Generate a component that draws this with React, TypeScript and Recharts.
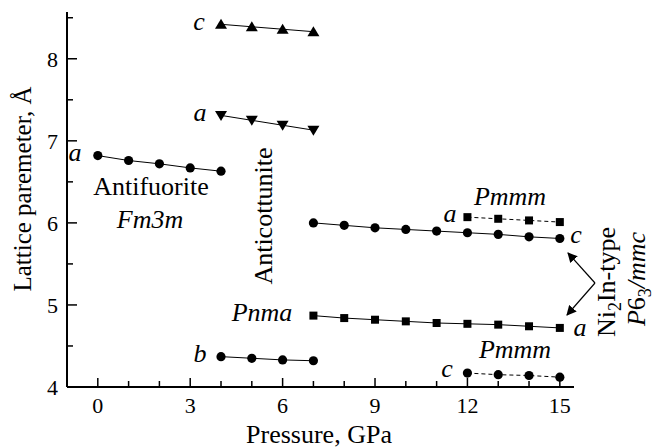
import React from 'react';
import { LineChart, Line, XAxis, YAxis } from 'recharts';

// Antifluorite (Fm3m)
const pressureAF = [0, 1, 2, 3, 4];
const aAF = [6.82, 6.76, 6.72, 6.67, 6.63];
// Anticotunite (Pnma)
const pressureAC = [4, 5, 6, 7];
const cAC = [8.42, 8.39, 8.36, 8.33];
const aAC = [7.31, 7.25, 7.19, 7.13];
const bAC = [4.37, 4.35, 4.33, 4.32];
// Ni2In-type (P63/mmc)
const pressureNi = [7, 8, 9, 10, 11, 12, 13, 14, 15];
const cNi = [6.0, 5.97, 5.94, 5.92, 5.9, 5.88, 5.86, 5.83, 5.81];
const aNi = [4.87, 4.84, 4.82, 4.8, 4.78, 4.77, 4.76, 4.74, 4.72];
// Pmmm
const pressurePm = [12, 13, 14, 15];
const aPm = [6.07, 6.05, 6.03, 6.01];
const cPm = [4.17, 4.15, 4.14, 4.12];

const xTicks = [0, 1, 2, 3, 4, 5, 6, 7, 8, 9, 10, 11, 12, 13, 14, 15];
const xLabelTicks = [0, 3, 6, 9, 12, 15];
const yTicks = [4, 4.5, 5, 5.5, 6, 6.5, 7, 7.5, 8, 8.5];
const yLabelTicks = [4, 5, 6, 7, 8];

const zip = (xs: number[], ys: number[]) => xs.map((x, i) => ({ x, y: ys[i] }));

const FONT = "'Liberation Serif', 'Times New Roman', Times, 'DejaVu Serif', serif";
const fs = (size: number, italic = false): React.CSSProperties => ({
  fontFamily: FONT,
  fontSize: size,
  fontStyle: italic ? 'italic' : 'normal',
});

const makeDot = (shape: string) => (props: any) => {
  const { cx, cy, index } = props;
  const key = `d-${shape}-${index}`;
  if (cx == null || cy == null) return <g key={key} />;
  if (shape === 'circle') return <circle key={key} cx={cx} cy={cy} r={4.6} fill="#000" />;
  if (shape === 'square') return <rect key={key} x={cx - 4} y={cy - 4} width={8} height={8} fill="#000" />;
  if (shape === 'up')
    return <polygon key={key} points={`${cx - 6},${cy + 4.5} ${cx + 6},${cy + 4.5} ${cx},${cy - 5.5}`} fill="#000" />;
  return <polygon key={key} points={`${cx - 6},${cy - 4.5} ${cx + 6},${cy - 4.5} ${cx},${cy + 5.5}`} fill="#000" />;
};

const XTick = (props: any) => {
  const { x, y, payload } = props;
  const v = payload.value;
  const major = xLabelTicks.includes(v);
  return (
    <g>
      <line x1={x} x2={x} y1={y} y2={y - (major ? 9 : 6)} stroke="#000" strokeWidth={1.5} />
      {major && (
        <text x={x} y={y + 26} textAnchor="middle" style={fs(22)} fill="#000">
          {v}
        </text>
      )}
    </g>
  );
};

const YTick = (props: any) => {
  const { x, y, payload } = props;
  const v = payload.value;
  const major = yLabelTicks.includes(v);
  return (
    <g>
      <line x1={x} x2={x + (major ? 10 : 6)} y1={y} y2={y} stroke="#000" strokeWidth={1.5} />
      {major && (
        <text x={x - 9} y={y + 8} textAnchor="end" style={fs(22)} fill="#000">
          {v}
        </text>
      )}
    </g>
  );
};

const lineProps = {
  type: 'linear' as const,
  dataKey: 'y',
  stroke: '#000',
  strokeWidth: 1,
  isAnimationActive: false,
  activeDot: false as const,
};

const T = (p: { x: number; y: number; children: React.ReactNode; italic?: boolean; size?: number }) => (
  <text x={p.x} y={p.y} textAnchor="middle" style={fs(p.size || 26, p.italic)} fill="#000">
    {p.children}
  </text>
);

export default function App() {
  return (
    <div style={{ position: 'absolute', left: 0, top: 0, width: 655, height: 448, background: '#fff' }}>
      <LineChart width={655} height={448} margin={{ top: 12, right: 81, bottom: 0, left: 0 }}>
        <defs>
          <marker id="arrowHead" viewBox="0 0 10 10" refX="9" refY="5" markerWidth="10" markerHeight="10" markerUnits="userSpaceOnUse" orient="auto">
            <path d="M0,0 L10,5 L0,10 z" fill="#000" />
          </marker>
        </defs>
        <XAxis
          type="number"
          dataKey="x"
          domain={[-1, 15.46]}
          ticks={xTicks}
          interval={0}
          allowDataOverflow
          tick={<XTick />}
          tickLine={false}
          tickSize={0}
          tickMargin={0}
          axisLine={{ stroke: '#000', strokeWidth: 2 }}
          height={61}
        />
        <YAxis
          type="number"
          dataKey="y"
          domain={[4, 8.57]}
          ticks={yTicks}
          interval={0}
          allowDataOverflow
          tick={<YTick />}
          tickLine={false}
          tickSize={0}
          tickMargin={0}
          axisLine={{ stroke: '#000', strokeWidth: 2 }}
          width={67}
        />
        <Line {...lineProps} data={zip(pressureAF, aAF)} dot={makeDot('circle')} />
        <Line {...lineProps} data={zip(pressureAC, cAC)} dot={makeDot('up')} />
        <Line {...lineProps} data={zip(pressureAC, aAC)} dot={makeDot('down')} />
        <Line {...lineProps} data={zip(pressureAC, bAC)} dot={makeDot('circle')} />
        <Line {...lineProps} data={zip(pressureNi, cNi)} dot={makeDot('circle')} />
        <Line {...lineProps} data={zip(pressureNi, aNi)} dot={makeDot('square')} />
        <Line {...lineProps} data={zip(pressurePm, aPm)} dot={makeDot('square')} strokeDasharray="4 3" />
        <Line {...lineProps} data={zip(pressurePm, cPm)} dot={makeDot('circle')} strokeDasharray="4 3" />

        {/* annotations */}
        <T x={75} y={161} italic>a</T>
        <T x={151} y={195}>Antifuorite</T>
        <T x={150} y={228} italic>Fm3m</T>
        <T x={199} y={30} italic>c</T>
        <T x={200} y={121} italic>a</T>
        <text x={272} y={216} transform="rotate(-90 272 216)" textAnchor="middle" style={fs(26)} fill="#000">
          Anticottunite
        </text>
        <T x={510} y={205} italic>Pmmm</T>
        <T x={450} y={222} italic>a</T>
        <T x={576} y={243} italic>c</T>
        <T x={262} y={321} italic>Pnma</T>
        <T x={580} y={336} italic>a</T>
        <T x={200} y={362} italic>b</T>
        <T x={447} y={377} italic>c</T>
        <T x={515} y={358} italic>Pmmm</T>

        <line x1={595} y1={283} x2={568} y2={253} stroke="#000" strokeWidth={1.2} markerEnd="url(#arrowHead)" />
        <line x1={595} y1={283} x2={567} y2={315} stroke="#000" strokeWidth={1.2} markerEnd="url(#arrowHead)" />

        <text x={615} y={282} transform="rotate(-90 615 282)" textAnchor="middle" style={fs(26)} fill="#000">
          Ni<tspan dy={6} style={{ fontSize: 18 }}>2</tspan>
          <tspan dy={-6}>In-type</tspan>
        </text>
        <text x={645} y={279} transform="rotate(-90 645 279)" textAnchor="middle" style={fs(26)} fill="#000">
          <tspan style={{ fontStyle: 'italic' }}>P</tspan>6<tspan dy={6} style={{ fontSize: 18 }}>3</tspan>
          <tspan dy={-6} style={{ fontStyle: 'italic' }}>/mmc</tspan>
        </text>

        {/* axis titles */}
        <text x={31} y={189} transform="rotate(-90 31 189)" textAnchor="middle" style={fs(25)} fill="#000">
          Lattice paremeter, Å
        </text>
        <text x={319} y={443} textAnchor="middle" style={fs(26)} fill="#000">
          Pressure, GPa
        </text>
      </LineChart>
    </div>
  );
}
